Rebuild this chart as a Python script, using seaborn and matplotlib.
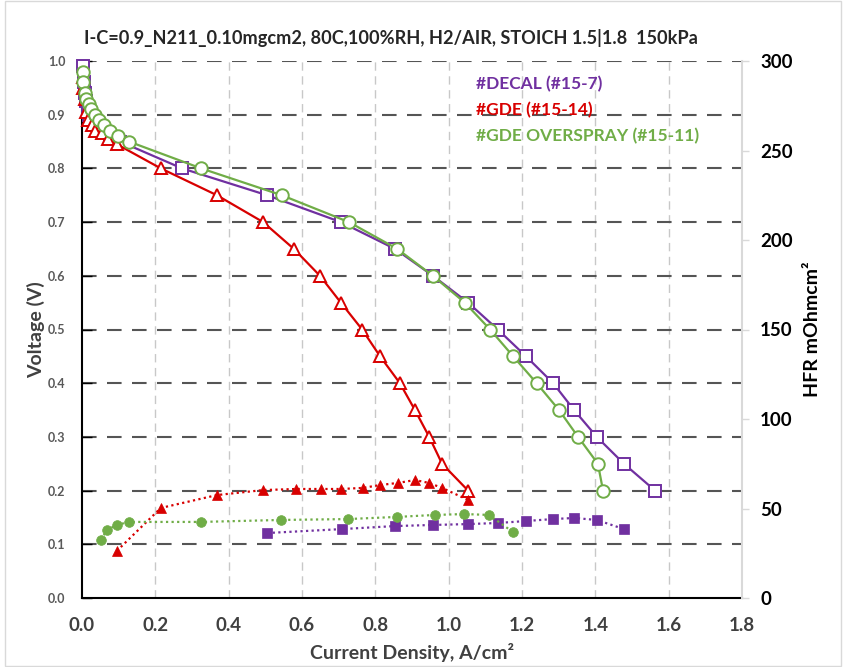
import matplotlib
matplotlib.use("Agg")
import matplotlib.pyplot as plt
import seaborn as sns
import pandas as pd
from matplotlib.patches import Rectangle

# ---------------- data ----------------
title_text = "I-C=0.9_N211_0.10mgcm2, 80C,100%RH, H2/AIR, STOICH 1.5|1.8  150kPa"
legend_labels = ["#DECAL (#15-7)", "#GDE (#15-14)", "#GDE OVERSPRAY (#15-11)"]

# polarization curves (current density A/cm2, voltage V)
i_decal = [0.003, 0.005, 0.008, 0.011, 0.015, 0.020, 0.030, 0.040, 0.055, 0.075, 0.104,
           0.273, 0.505, 0.706, 0.854, 0.957, 1.053, 1.134, 1.211, 1.285, 1.342, 1.404, 1.478, 1.563]
v_decal = [0.99, 0.96, 0.94, 0.925, 0.91, 0.90, 0.89, 0.88, 0.87, 0.86, 0.85,
           0.80, 0.75, 0.70, 0.65, 0.60, 0.55, 0.50, 0.45, 0.40, 0.35, 0.30, 0.25, 0.20]

i_gde = [0.002, 0.004, 0.007, 0.010, 0.017, 0.027, 0.035, 0.055, 0.071, 0.095,
         0.215, 0.368, 0.494, 0.578, 0.649, 0.706, 0.764, 0.813, 0.867, 0.908, 0.947, 0.982, 1.053]
v_gde = [0.97, 0.95, 0.93, 0.905, 0.89, 0.88, 0.87, 0.865, 0.855, 0.845,
         0.80, 0.75, 0.70, 0.65, 0.60, 0.55, 0.50, 0.45, 0.40, 0.35, 0.30, 0.25, 0.20]

i_over = [0.002, 0.004, 0.007, 0.012, 0.018, 0.025, 0.035, 0.045, 0.060, 0.075, 0.098, 0.128,
          0.325, 0.545, 0.728, 0.860, 0.957, 1.044, 1.113, 1.176, 1.240, 1.301, 1.353, 1.407, 1.421]
v_over = [0.98, 0.96, 0.94, 0.93, 0.92, 0.91, 0.90, 0.89, 0.88, 0.87, 0.86, 0.85,
          0.80, 0.75, 0.70, 0.65, 0.60, 0.55, 0.50, 0.45, 0.40, 0.35, 0.30, 0.25, 0.20]

# HFR (mOhm cm2)
i_decal_hfr = [0.505, 0.709, 0.854, 0.957, 1.053, 1.134, 1.211, 1.284, 1.342, 1.404, 1.478]
hfr_decal = [36.3, 38.5, 40.2, 40.8, 41.3, 41.9, 43.0, 44.1, 44.7, 43.6, 38.5]

i_gde_hfr = [0.095, 0.215, 0.368, 0.494, 0.584, 0.652, 0.706, 0.766, 0.813, 0.862, 0.908, 0.946, 0.982, 1.053]
hfr_gde = [26.3, 50.3, 57.5, 60.3, 60.9, 60.9, 60.9, 61.5, 63.1, 64.3, 65.9, 64.3, 61.5, 54.8]

i_over_hfr = [0.052, 0.068, 0.095, 0.128, 0.325, 0.543, 0.725, 0.859, 0.963, 1.042, 1.110, 1.175]
hfr_over = [32.4, 38.0, 40.8, 42.5, 42.5, 43.6, 44.1, 45.3, 46.4, 46.9, 46.4, 36.9]

x_ticks = [0.0, 0.2, 0.4, 0.6, 0.8, 1.0, 1.2, 1.4, 1.6, 1.8]
y_ticks = [0.0, 0.1, 0.2, 0.3, 0.4, 0.5, 0.6, 0.7, 0.8, 0.9, 1.0]
y2_ticks = [0, 50, 100, 150, 200, 250, 300]

# ---------------- style ----------------
sns.set_theme(style="white")
plt.rcParams['font.family'] = ['Lato', 'DejaVu Sans']

PURPLE = "#7030A0"
RED = "#D80000"
GREEN = "#70AD47"

fig = plt.figure(figsize=(8.46, 6.67), dpi=100)
ax = fig.add_axes([82/846, 1-598/667, (742-82)/846, (598-61)/667])
ax2 = ax.twinx()

# figure border
fig.patches.append(Rectangle((5/846, 0.002), 1-10/846, 0.996, transform=fig.transFigure,
                             fill=False, edgecolor="#d9d9d9", lw=1.0))

# gridlines
for xv in x_ticks[1:-1]:
    ax.axvline(xv, color="#c8c8c8", lw=1.0, ls=(0, (6, 4)), zorder=0)
for yv in y_ticks[1:]:
    ax.axhline(yv, color="#555555", lw=1.5, ls=(0, (7, 5)), zorder=0.5)

# polarization curves
pol = [(i_decal, v_decal, PURPLE, 's', 9), (i_gde, v_gde, RED, '^', 9), (i_over, v_over, GREEN, 'o', 9)]
for xs, ys, c, m, ms in pol:
    df = pd.DataFrame({"i": xs, "v": ys})
    sns.lineplot(data=df, x="i", y="v", ax=ax, color=c, lw=1.6, marker=m, markersize=ms,
                 markerfacecolor="white", markeredgecolor=c, markeredgewidth=1.4,
                 sort=False, estimator=None, zorder=3, clip_on=False)

# HFR curves
hfr = [(i_decal_hfr, hfr_decal, PURPLE, 's', 7), (i_gde_hfr, hfr_gde, RED, '^', 7),
       (i_over_hfr, hfr_over, GREEN, 'o', 7)]
for xs, ys, c, m, ms in hfr:
    df = pd.DataFrame({"i": xs, "h": ys})
    sns.lineplot(data=df, x="i", y="h", ax=ax2, color=c, lw=1.6, ls=(0, (1, 1.5)), marker=m,
                 markersize=ms, markerfacecolor=c, markeredgecolor=c, markeredgewidth=0.5,
                 sort=False, estimator=None, zorder=3)

ax.set_xlim(0, 1.8)
ax.set_ylim(0, 1.0)
ax2.set_ylim(0, 300)
ax.set_xticks(x_ticks)
ax.set_yticks(y_ticks)
ax2.set_yticks(y2_ticks)
ax.set_xticklabels([f"{t:.1f}" for t in x_ticks], fontsize=13.5, fontweight="bold", color="#404040")
ax.set_yticklabels([f"{t:.1f}" for t in y_ticks], fontsize=9, fontweight="bold", color="#595959")
ax2.set_yticklabels([str(t) for t in y2_ticks], fontsize=13.5, fontweight="bold", color="black")

ax.tick_params(axis='x', length=0, pad=14)
ax.tick_params(axis='y', direction='in', length=7, width=1, color='black', pad=12, left=True)
ax2.tick_params(axis='y', direction='out', length=5, width=1, color='#d9d9d9', pad=8, right=True)

for s in ["top"]:
    ax.spines[s].set_visible(False)
    ax2.spines[s].set_visible(False)
ax.spines["left"].set_color("black")
ax.spines["left"].set_linewidth(1.5)
ax.spines["bottom"].set_color("black")
ax.spines["bottom"].set_linewidth(1.5)
ax.spines["right"].set_visible(False)
ax2.spines["left"].set_visible(False)
ax2.spines["bottom"].set_visible(False)
ax2.spines["right"].set_color("#d9d9d9")
ax2.spines["right"].set_linewidth(1.5)

ax.set_xlabel("Current Density, A/cm²", fontsize=14, fontweight="bold", color="#404040", labelpad=6)
ax.set_ylabel("Voltage (V)", fontsize=14, fontweight="bold", color="#404040", labelpad=2)
ax2.set_ylabel("HFR mOhmcm²", fontsize=14, fontweight="bold", color="black", labelpad=8)

fig.text(84/846, 1-38/667, title_text, fontsize=13.1, fontweight="bold", color="#262626",
         ha="left", va="center")

leg_colors = [PURPLE, RED, GREEN]
for k, (lab, c) in enumerate(zip(legend_labels, leg_colors)):
    ax.text(476/846, 1-(84+26*k)/667, lab, transform=fig.transFigure, fontsize=12.5,
            fontweight="bold", color=c, ha="left", va="center")

fig.savefig("out.png", dpi=100)
